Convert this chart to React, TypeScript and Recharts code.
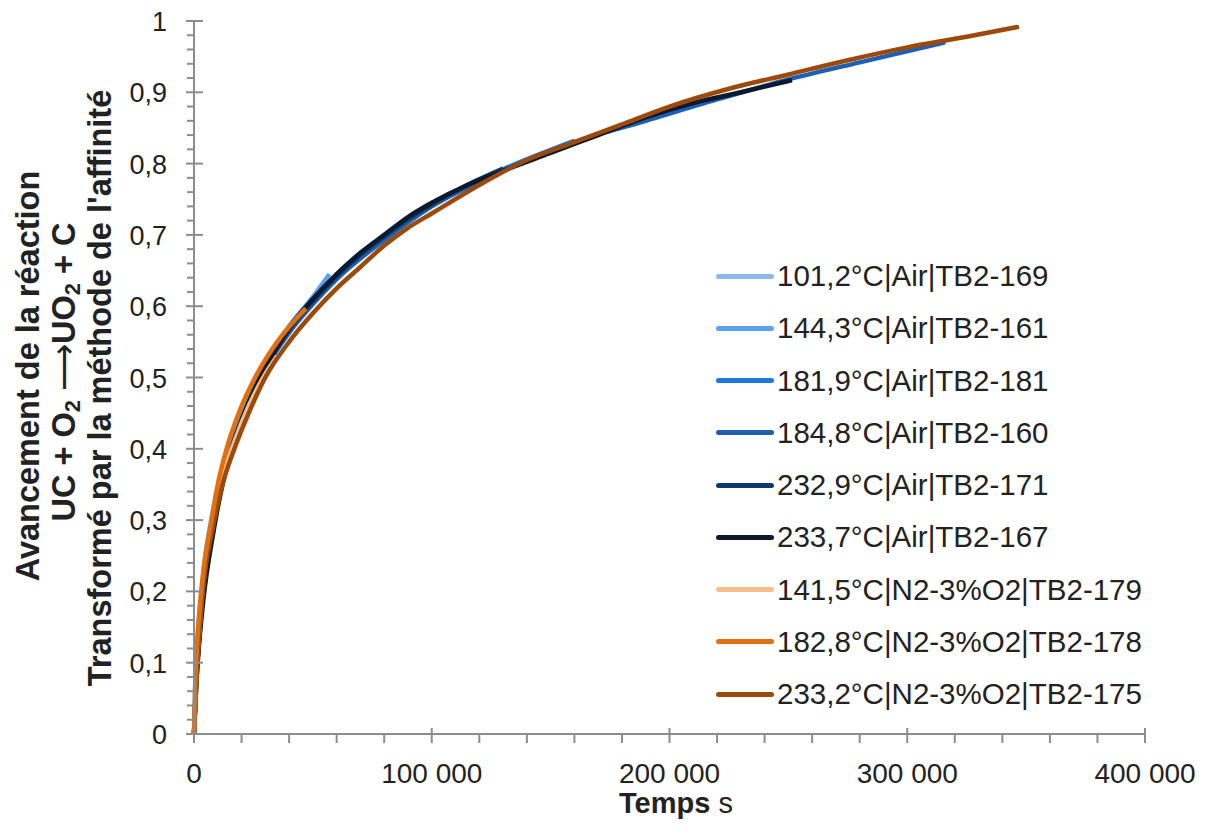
import React from "react";
import { Legend, Line, LineChart, XAxis, YAxis } from "recharts";

const FONT = "'Liberation Sans', Arial, sans-serif";
const AXIS = "#8c8c8c";
const INK = "#222";

// plot frame (px)
const W = 1208;
const H = 827;
const LEFT = 194;
const BOTTOM = 734;

// temps (s) / avancement, one pair per essai
const t169 = [0, 500, 1000, 2000, 4000, 8000, 12000, 17000, 23000];
const y169 = [0, 0.07, 0.11, 0.16, 0.23, 0.315, 0.375, 0.43, 0.475];

const t161 = [0, 1000, 2000, 4000, 8000, 12000, 17000, 23000, 30000, 40000, 50000, 57000];
const y161 = [0, 0.09, 0.14, 0.22, 0.31, 0.37, 0.42, 0.47, 0.52, 0.572, 0.613, 0.645];

const t181 = [0, 1000, 2000, 4000, 8000, 12000, 17000, 23000, 30000, 40000, 50000, 60000, 80000, 100000, 130000, 160000];
const y181 = [0, 0.085, 0.135, 0.215, 0.305, 0.365, 0.415, 0.465, 0.515, 0.565, 0.605, 0.64, 0.695, 0.742, 0.792, 0.832];

const t160 = [0, 1000, 2000, 4000, 8000, 12000, 17000, 23000, 30000, 40000, 50000, 60000, 80000, 100000, 130000, 160000, 190000, 220000, 250000, 280000, 316000];
const y160 = [0, 0.085, 0.135, 0.215, 0.305, 0.365, 0.415, 0.465, 0.512, 0.563, 0.603, 0.638, 0.693, 0.74, 0.79, 0.83, 0.86, 0.89, 0.918, 0.942, 0.97];

const t171 = [0, 1000, 2000, 4000, 8000, 12000, 17000, 23000, 30000, 40000, 50000, 60000, 70000, 80000, 90000, 100000, 115000, 130000];
const y171 = [0, 0.075, 0.125, 0.2, 0.29, 0.355, 0.41, 0.462, 0.512, 0.567, 0.607, 0.642, 0.672, 0.698, 0.722, 0.743, 0.77, 0.793];

const t167 = [0, 1000, 2000, 4000, 8000, 12000, 17000, 23000, 30000, 40000, 50000, 60000, 70000, 80000, 90000, 100000, 115000, 130000, 150000, 170000, 190000, 210000, 230000, 251500];
const y167 = [0, 0.07, 0.12, 0.19, 0.28, 0.35, 0.41, 0.465, 0.515, 0.57, 0.61, 0.645, 0.675, 0.7, 0.725, 0.745, 0.77, 0.79, 0.815, 0.84, 0.865, 0.885, 0.9, 0.917];

const t179 = [0, 1000, 2000, 4000, 8000, 12000, 17000, 23000, 30000, 35000];
const y179 = [0, 0.085, 0.135, 0.215, 0.3, 0.36, 0.41, 0.46, 0.505, 0.53];

const t178 = [0, 500, 1000, 2000, 4000, 7400, 10000, 13700, 20000, 25700, 35000, 47000];
const y178 = [0, 0.07, 0.11, 0.16, 0.23, 0.3, 0.35, 0.4, 0.46, 0.5, 0.55, 0.597];

const t175 = [0, 1000, 2000, 4000, 8000, 12000, 17000, 23000, 30000, 40000, 50000, 60000, 70000, 80000, 90000, 100000, 120000, 140000, 160000, 180000, 200000, 225000, 250000, 275000, 300000, 325000, 347000];
const y175 = [0, 0.08, 0.13, 0.21, 0.29, 0.35, 0.4, 0.45, 0.5, 0.55, 0.59, 0.625, 0.655, 0.685, 0.71, 0.73, 0.77, 0.805, 0.83, 0.855, 0.88, 0.905, 0.925, 0.945, 0.963, 0.978, 0.992];

const X_MAJOR = [0, 100000, 200000, 300000, 400000];
const X_TICKS = Array.from({ length: 21 }, (_, i) => i * 20000);
const Y_TICKS = Array.from({ length: 51 }, (_, i) => i / 50);

const toPoints = (t: number[], y: number[]) => t.map((v, i) => ({ t: v, y: y[i] }));

const SERIES = [
	{ key: "169", name: "101,2°C|Air|TB2-169", color: "#8DB9E8", data: toPoints(t169, y169) },
	{ key: "161", name: "144,3°C|Air|TB2-161", color: "#5AA2EE", data: toPoints(t161, y161) },
	{ key: "181", name: "181,9°C|Air|TB2-181", color: "#1B78E2", data: toPoints(t181, y181) },
	{ key: "160", name: "184,8°C|Air|TB2-160", color: "#1D5FB5", data: toPoints(t160, y160) },
	{ key: "171", name: "232,9°C|Air|TB2-171", color: "#10396B", data: toPoints(t171, y171) },
	{ key: "167", name: "233,7°C|Air|TB2-167", color: "#0B1A2C", data: toPoints(t167, y167) },
	{ key: "179", name: "141,5°C|N2-3%O2|TB2-179", color: "#F7BE8C", data: toPoints(t179, y179) },
	{ key: "178", name: "182,8°C|N2-3%O2|TB2-178", color: "#E3700F", data: toPoints(t178, y178) },
	{ key: "175", name: "233,2°C|N2-3%O2|TB2-175", color: "#9B4A0C", data: toPoints(t175, y175) },
];

// orange short run sits on top of the brown one
const DRAW_ORDER = ["169", "161", "181", "160", "171", "167", "179", "175", "178"];

const fmtX = (v: number) => (v === 0 ? "0" : `${v / 1000} 000`);
const fmtY = (v: number) => (v === 0 || v === 1 ? String(v) : v.toFixed(1).replace(".", ","));

function XTick(props: any) {
	const { x, payload } = props;
	const v = payload.value;
	const major = X_MAJOR.includes(v);
	return (
		<g>
			<line x1={x} x2={x} y1={major ? BOTTOM - 6 : BOTTOM} y2={BOTTOM + 9} stroke={AXIS} strokeWidth={2} />
			{major && (
				<text x={x} y={BOTTOM + 49} textAnchor="middle" fontFamily={FONT} fontSize={28} fill={INK}>
					{fmtX(v)}
				</text>
			)}
		</g>
	);
}

function YTick(props: any) {
	const { y, payload } = props;
	const v = payload.value;
	const major = Math.round(v * 50) % 5 === 0;
	return (
		<g>
			<line x1={major ? LEFT - 8 : LEFT - 7} x2={major ? LEFT + 9 : LEFT} y1={y} y2={y} stroke={AXIS} strokeWidth={2} />
			{major && (
				<text x={LEFT - 27} y={y + 10} textAnchor="end" fontFamily={FONT} fontSize={27} fill={INK}>
					{fmtY(v)}
				</text>
			)}
		</g>
	);
}

function YTitle() {
	const common = {
		textAnchor: "middle" as const,
		dominantBaseline: "central" as const,
		fontFamily: FONT,
		fontSize: 32.5,
		fontWeight: 700,
		fill: INK,
	};
	return (
		<g>
			<text {...common} transform="translate(28,376) rotate(-90)">
				Avancement de la réaction
			</text>
			<text {...common} transform="translate(64,372) rotate(-90)">
				UC + O<tspan fontSize={22} dy={8}>2</tspan>
				<tspan dy={-8} fontWeight={400}> ⟶</tspan>UO
				<tspan fontSize={22} dy={8}>2</tspan>
				<tspan dy={-8}> + C</tspan>
			</text>
			<text {...common} transform="translate(100,388) rotate(-90)">
				Transformé par la méthode de l'affinité
			</text>
		</g>
	);
}

function XTitle() {
	return (
		<text x={676} y={813} textAnchor="middle" fontFamily={FONT} fontSize={29} fill={INK}>
			<tspan fontWeight={700}>Temps</tspan>
			<tspan> s</tspan>
		</text>
	);
}

function LegendBox() {
	return (
		<div style={{ fontFamily: FONT, fontSize: 29.5, color: INK }}>
			{SERIES.map((s) => (
				<div key={s.key} style={{ display: "flex", alignItems: "center", height: 52.25 }}>
					<span
						style={{
							display: "inline-block",
							width: 58,
							height: 5,
							borderRadius: 3,
							background: s.color,
							marginRight: 3,
						}}
					/>
					<span style={{ whiteSpace: "nowrap" }}>{s.name}</span>
				</div>
			))}
		</div>
	);
}

export default function App() {
	return (
		<div style={{ position: "absolute", left: 0, top: 0, width: W, height: H, background: "#fff" }}>
			<LineChart width={W} height={H} margin={{ top: 21, right: 63, bottom: 33, left: 114 }}>
				<XAxis
					dataKey="t"
					type="number"
					domain={[0, 400000]}
					ticks={X_TICKS}
					interval={0}
					height={60}
					stroke={AXIS}
					strokeWidth={2}
					tickLine={false}
					tick={<XTick />}
					label={<XTitle />}
				/>
				<YAxis
					dataKey="y"
					type="number"
					domain={[0, 1]}
					ticks={Y_TICKS}
					interval={0}
					width={80}
					stroke={AXIS}
					strokeWidth={2}
					tickLine={false}
					tick={<YTick />}
					label={<YTitle />}
				/>
				<Legend
					layout="vertical"
					align="center"
					verticalAlign="middle"
					content={<LegendBox />}
					wrapperStyle={{ left: 716, top: 250, width: 480 }}
				/>
				{DRAW_ORDER.map((k) => {
					const s = SERIES.find((d) => d.key === k)!;
					return (
						<Line
							key={s.key}
							data={s.data}
							dataKey="y"
							name={s.name}
							type="monotone"
							stroke={s.color}
							strokeWidth={4.5}
							dot={false}
							activeDot={false}
							isAnimationActive={false}
						/>
					);
				})}
			</LineChart>
		</div>
	);
}
